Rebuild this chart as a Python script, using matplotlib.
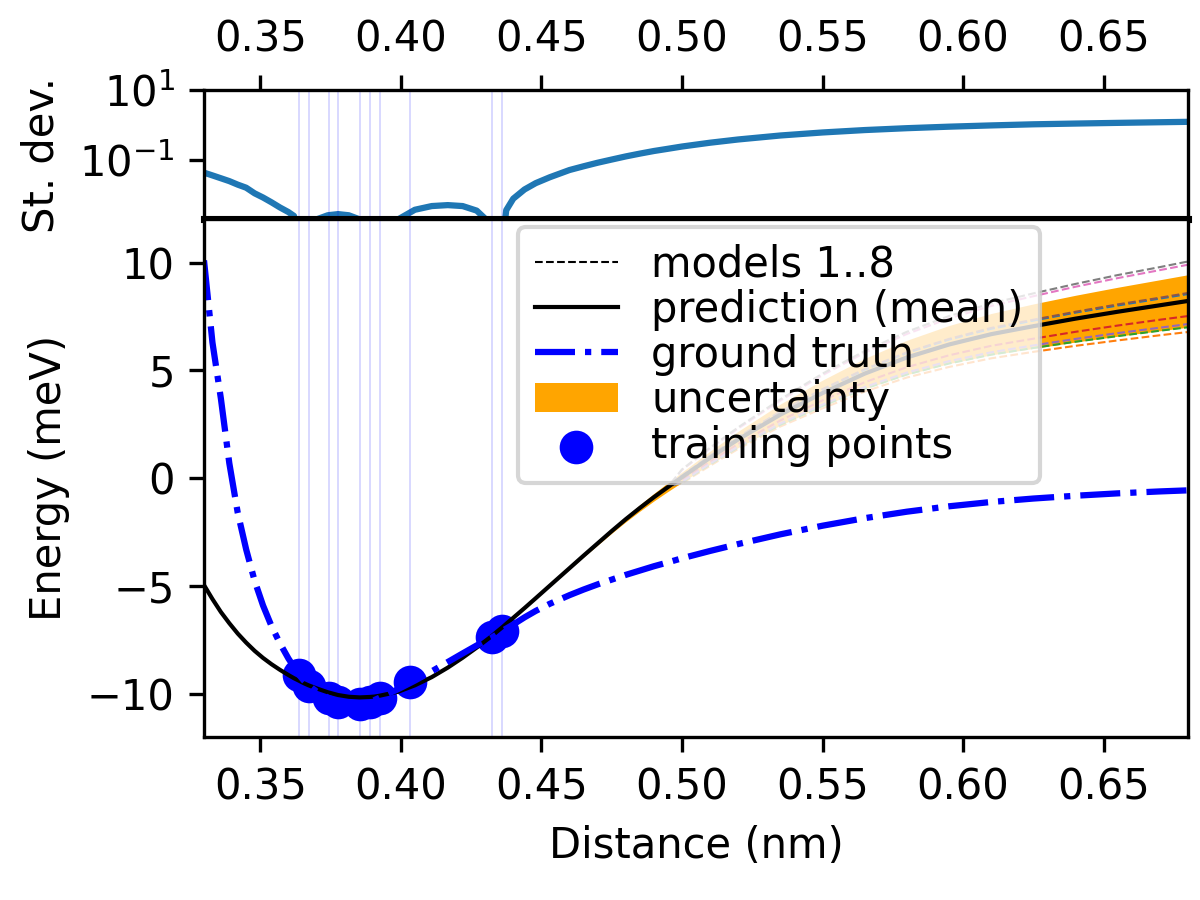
import matplotlib
matplotlib.use("Agg")
import matplotlib.pyplot as plt
from matplotlib.ticker import NullLocator
import numpy as np

# distance grid (nm) shared by every curve
distance = np.array([
    0.330, 0.333, 0.336, 0.339, 0.342, 0.345, 0.348, 0.351, 0.354, 0.357,
    0.360, 0.362, 0.3637, 0.3655, 0.3672, 0.370, 0.374, 0.3777, 0.3815, 0.3854,
    0.3889, 0.3907, 0.3925, 0.399, 0.405, 0.411, 0.4167, 0.422, 0.427, 0.4303,
    0.4325, 0.4343, 0.436, 0.4375, 0.440, 0.444, 0.448, 0.453, 0.460, 0.465,
    0.470, 0.475, 0.480, 0.485, 0.490, 0.495, 0.500, 0.510, 0.520, 0.535,
    0.550, 0.565, 0.580, 0.595, 0.610, 0.625, 0.640, 0.655, 0.670, 0.680])

ground_truth = np.array([
    10.1, 6.3, 3.7, 0.7, -1.6, -3.3, -4.75, -5.9, -6.85, -7.65,
    -8.35, -8.75, -9.1, -9.38, -9.6, -9.88, -10.17, -10.36, -10.46, -10.47,
    -10.37, -10.28, -10.17, -9.78, -9.38, -8.95, -8.52, -8.12, -7.75, -7.52,
    -7.38, -7.22, -7.08, -6.97, -6.78, -6.45, -6.15, -5.82, -5.42, -5.16,
    -4.92, -4.7, -4.48, -4.28, -4.08, -3.9, -3.71, -3.37, -3.05, -2.6,
    -2.2, -1.85, -1.55, -1.3, -1.1, -0.94, -0.81, -0.7, -0.61, -0.56])

mean_pred = np.array([
    -4.95, -5.6, -6.2, -6.72, -7.2, -7.62, -8.0, -8.33, -8.62, -8.88,
    -9.12, -9.27, -9.38, -9.5, -9.6, -9.74, -9.92, -10.05, -10.13, -10.16,
    -10.14, -10.12, -10.08, -9.9, -9.6, -9.22, -8.78, -8.32, -7.85, -7.52,
    -7.3, -7.1, -6.92, -6.75, -6.47, -6.02, -5.56, -4.98, -4.17, -3.59,
    -3.02, -2.45, -1.9, -1.38, -0.88, -0.41, 0.05, 0.95, 1.8, 2.95,
    3.95, 4.85, 5.6, 6.2, 6.68, 7.05, 7.4, 7.72, 8.02, 8.22])

std_pred = np.array([
    0.042, 0.035, 0.029, 0.024, 0.019, 0.0155, 0.0107, 0.0081, 0.0059, 0.0042,
    0.0031, 0.0024, 0.0003, 0.0008, 0.0003, 0.0019, 0.0025, 0.0027, 0.0025, 0.0019,
    0.0003, 0.0007, 0.0003, 0.0019, 0.0036, 0.0046, 0.0049, 0.0046, 0.0034, 0.0019,
    0.0003, 0.0006, 0.0003, 0.0035, 0.0075, 0.0138, 0.021, 0.031, 0.050, 0.064,
    0.081, 0.100, 0.123, 0.148, 0.176, 0.204, 0.237, 0.305, 0.378, 0.492,
    0.601, 0.705, 0.798, 0.882, 0.959, 1.032, 1.084, 1.135, 1.183, 1.216])

# the 8 models agree with the mean below 0.50 nm; their values from 0.50 nm on
model_tails = [
    [0.11, 1.03, 1.9, 3.07, 4.11, 5.03, 5.81, 6.43, 6.93, 7.31, 7.68, 8.01, 8.33, 8.54],
    [-0.23, 0.58, 1.36, 2.4, 3.24, 4.02, 4.67, 5.16, 5.56, 5.86, 6.14, 6.39, 6.63, 6.78],
    [-0.19, 0.64, 1.43, 2.48, 3.35, 4.15, 4.81, 5.32, 5.73, 6.04, 6.33, 6.59, 6.84, 7.0],
    [-0.09, 0.77, 1.59, 2.68, 3.61, 4.45, 5.15, 5.7, 6.14, 6.47, 6.79, 7.08, 7.35, 7.52],
    [-0.16, 0.68, 1.47, 2.54, 3.42, 4.23, 4.9, 5.43, 5.84, 6.16, 6.46, 6.73, 6.98, 7.15],
    [0.12, 1.04, 1.91, 3.09, 4.13, 5.06, 5.84, 6.46, 6.97, 7.35, 7.72, 8.06, 8.37, 8.59],
    [0.38, 1.38, 2.31, 3.6, 4.78, 5.82, 6.69, 7.41, 7.99, 8.44, 8.88, 9.28, 9.65, 9.9],
    [0.41, 1.42, 2.36, 3.66, 4.85, 5.9, 6.79, 7.52, 8.11, 8.57, 9.01, 9.42, 9.79, 10.05],
]

train_x = [0.3637, 0.3672, 0.3743, 0.3778, 0.3854, 0.3889, 0.3925, 0.4034, 0.4325, 0.4360]
train_y = [-9.12, -9.61, -10.2, -10.39, -10.48, -10.35, -10.17, -9.46, -7.38, -7.07]

fig, ( axStd, ax ) = plt.subplots( 2, 1, sharex = True, figsize = ( 4, 3 ), dpi = 300,
                                   gridspec_kw = { 'height_ratios': [ 1, 4 ] } )
fig.subplots_adjust( left = 0.17, right = 0.99, top = 0.9, bottom = 0.181, hspace = 0 )

# top: ensemble spread
axStd.semilogy( distance, std_pred, color = 'tab:blue', lw = 1.5 )
axStd.set_ylim( 0.0019, 10 )
axStd.set_yticks( [ 1e-1, 1e1 ] )
axStd.yaxis.set_minor_locator( NullLocator() )
axStd.set_ylabel( "St. dev." )
axStd.xaxis.tick_top()
axStd.tick_params( axis = 'x', which = 'both', top = True, bottom = False, labeltop = True, labelbottom = False )
axStd.spines['bottom'].set_linewidth( 1.7 )
axStd.spines['bottom'].set_zorder( 5 )

# bottom: energies
split = np.searchsorted( distance, 0.5 )
ax.fill_between( distance, mean_pred - std_pred, mean_pred + std_pred, color = 'orange', lw = 0,
                 zorder = 1, label = 'uncertainty' )
ax.scatter( train_x, train_y, s = 50, color = 'blue', zorder = 1.5, label = 'training points' )
for i, tail in enumerate( model_tails ):
    model = np.concatenate( [ mean_pred[:split], tail ] )
    ax.plot( distance, model, ls = '--', lw = 0.5, color = 'C%d' % i, zorder = 2 )
ax.plot( distance, mean_pred, color = 'k', lw = 1, zorder = 2.1, label = 'prediction (mean)' )
ax.plot( distance, ground_truth, color = 'blue', ls = '-.', lw = 1.5, zorder = 2.2, label = 'ground truth' )
ax.plot( [], [], ls = '--', lw = 0.5, color = 'k', label = 'models 1..8' )

for x in train_x:
    axStd.axvline( x, color = 'blue', alpha = 0.18, lw = 0.4 )
    ax.axvline( x, color = 'blue', alpha = 0.18, lw = 0.4 )

ax.set_xlim( 0.33, 0.68 )
ax.set_ylim( -12, 12 )
ax.set_xticks( [ 0.35, 0.40, 0.45, 0.50, 0.55, 0.60, 0.65 ] )
ax.set_yticks( [ -10, -5, 0, 5, 10 ] )
ax.set_xlabel( "Distance (nm)" )
ax.set_ylabel( "Energy (meV)" )
ax.tick_params( axis = 'x', top = False )

handles, labels = ax.get_legend_handles_labels()
order = [ labels.index( l ) for l in [ 'models 1..8', 'prediction (mean)', 'ground truth', 'uncertainty', 'training points' ] ]
leg = ax.legend( [ handles[i] for i in order ], [ labels[i] for i in order ],
                 loc = 'upper left', bbox_to_anchor = ( 0.319, 0.986 ), borderaxespad = 0,
                 labelspacing = 0.08 )
leg.set_zorder( 10 )

fig.savefig( "out.png" )
